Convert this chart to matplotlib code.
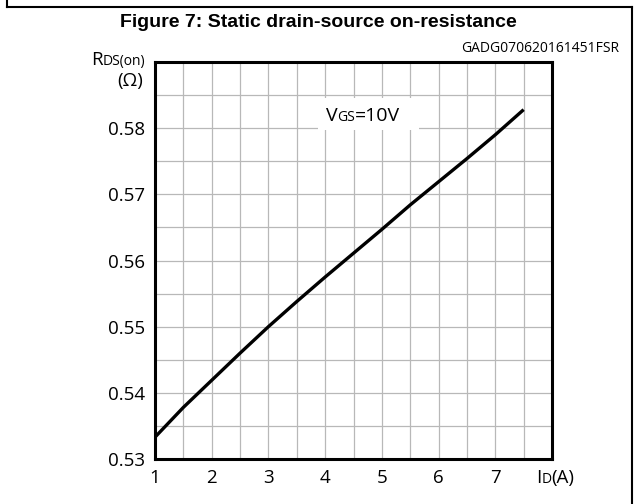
import matplotlib
matplotlib.use("Agg")
import matplotlib.pyplot as plt
from matplotlib.lines import Line2D
from matplotlib.patches import Rectangle
from matplotlib.ticker import MultipleLocator

# drain current (A) vs static on-resistance (ohm), VGS = 10 V
id_amps = [1.0, 1.5, 2.0, 2.5, 3.0, 3.5, 4.0, 4.5, 5.0, 5.5, 6.0, 6.5, 7.0, 7.5]
rds_on = [0.5333, 0.5378, 0.5419, 0.5460, 0.5500, 0.5538, 0.5575,
          0.5611, 0.5647, 0.5684, 0.5719, 0.5754, 0.5790, 0.5828]
x_ticks = [1, 2, 3, 4, 5, 6, 7]
y_ticks = [0.53, 0.54, 0.55, 0.56, 0.57, 0.58]

FONT = ["Open Sans", "DejaVu Sans"]
GRID = "#b8b8b8"
W, H = 636, 504


def runs(fig, x, y, pieces, ha="left"):
    """Draw text pieces of mixed size on one baseline, at pixel x/y from top-left."""
    r = fig.canvas.get_renderer()
    items = []
    total = 0.0
    for s, size in pieces:
        t = fig.text(0, 1 - y / H, s, fontsize=size, va="baseline",
                     ha="left", family=FONT, zorder=5)
        w = t.get_window_extent(r).width
        items.append((t, w))
        total += w
    start = x - total if ha == "right" else x
    for t, w in items:
        t.set_x(start / W)
        start += w


fig = plt.figure(figsize=(W / 100, H / 100), dpi=100)
fig.patch.set_facecolor("white")
ax = fig.add_axes([155 / W, 1 - 459 / H, (552 - 155) / W, (459 - 62) / H])

# outer frame (left, top, right)
for xs, ys in (([7, 7], [0, 7]), ([7, 632], [7, 7]), ([632, 632], [7, H])):
    fig.add_artist(Line2D([v / W for v in xs], [1 - v / H for v in ys],
                          color="black", lw=1.5, transform=fig.transFigure))

ax.plot(id_amps, rds_on, color="black", lw=2.4, zorder=3,
        solid_capstyle="butt", solid_joinstyle="round")

ax.set_xlim(1, 8)
ax.set_ylim(0.53, 0.59)
ax.set_xticks(x_ticks)
ax.set_xticklabels([str(v) for v in x_ticks])
ax.set_yticks(y_ticks)
ax.set_yticklabels([f"{v:.2f}" for v in y_ticks])
ax.xaxis.set_minor_locator(MultipleLocator(0.5))
ax.yaxis.set_minor_locator(MultipleLocator(0.005))
ax.grid(True, which="both", color=GRID, lw=0.9, zorder=0.5)
ax.set_axisbelow(True)
ax.tick_params(which="both", length=0)
ax.tick_params(axis="x", pad=7)
ax.tick_params(axis="y", pad=7)
for lab in ax.get_xticklabels() + ax.get_yticklabels():
    lab.set_family(FONT)
    lab.set_fontsize(13.5)
for sp in ax.spines.values():
    sp.set_linewidth(2.2)
    sp.set_color("black")

# white box behind the VGS label
ax.add_patch(Rectangle((3.88, 0.5797), 1.77, 0.0049, facecolor="white",
                       edgecolor="none", zorder=1))

fig.text(0.5, 1 - 27 / H, "Figure 7: Static drain-source on-resistance",
         ha="center", va="baseline", fontsize=14, fontweight="bold",
         family=["Liberation Sans", "DejaVu Sans"])
fig.text(619 / W, 1 - 52 / H, "GADG070620161451FSR", ha="right",
         va="baseline", fontsize=10, family=FONT)

runs(fig, 145, 65, [("R", 13.5), ("DS(on)", 10)], ha="right")
runs(fig, 143, 86, [("(Ω)", 13.5)], ha="right")
runs(fig, 326, 121, [("V", 14), ("GS", 10), ("=10V", 14)])
runs(fig, 536, 483, [("I", 13.5), ("D", 10), ("(A)", 13.5)])

fig.savefig("out.png", dpi=100, facecolor="white")
